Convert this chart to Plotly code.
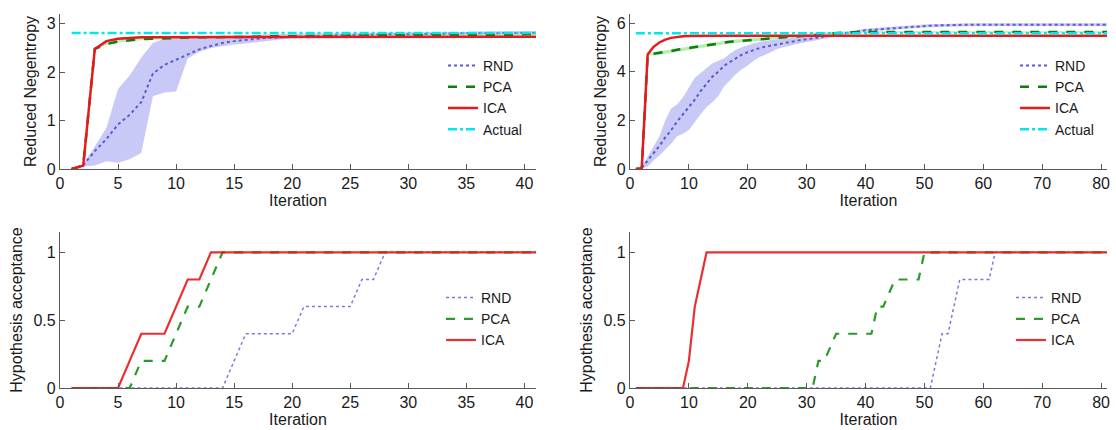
import plotly.graph_objects as go

# ---------------- data ----------------
iter_a = list(range(1, 42))   # left column: iterations 1..41
iter_b = list(range(1, 82))   # right column: iterations 1..81

# Top-left: reduced negentropy
neg_a_rnd = [0.00, 0.08, 0.37, 0.62, 0.92, 1.12, 1.38, 1.97, 2.15, 2.26,
             2.37, 2.47, 2.54, 2.60, 2.64, 2.67, 2.69, 2.71, 2.72, 2.73,
             2.74, 2.75, 2.75, 2.76, 2.76, 2.77, 2.77, 2.78, 2.78, 2.78,
             2.79, 2.79, 2.79, 2.80, 2.80, 2.80, 2.80, 2.81, 2.81, 2.81, 2.81]
neg_a_rnd_hi = [0.00, 0.10, 0.47, 0.85, 1.65, 1.93, 2.30, 2.60, 2.69, 2.71,
                2.72, 2.73, 2.74, 2.75, 2.76, 2.77, 2.77, 2.78, 2.78, 2.79,
                2.79, 2.80, 2.80, 2.80, 2.81, 2.81, 2.81, 2.82, 2.82, 2.82,
                2.82, 2.83, 2.83, 2.83, 2.83, 2.84, 2.84, 2.84, 2.84, 2.85, 2.85]
neg_a_rnd_lo = [0.00, 0.05, 0.07, 0.16, 0.13, 0.20, 0.33, 1.50, 1.58, 1.60,
                2.28, 2.42, 2.50, 2.54, 2.57, 2.59, 2.62, 2.65, 2.68, 2.70,
                2.71, 2.72, 2.72, 2.73, 2.73, 2.74, 2.74, 2.75, 2.75, 2.75,
                2.76, 2.76, 2.76, 2.77, 2.77, 2.77, 2.77, 2.78, 2.78, 2.78, 2.78]
neg_a_pca = [0.00, 0.07, 2.48, 2.58, 2.63, 2.66, 2.68, 2.69, 2.70, 2.71,
             2.71, 2.72, 2.72, 2.72, 2.73, 2.73, 2.73, 2.74, 2.74, 2.74,
             2.74, 2.75, 2.75, 2.75, 2.75, 2.75, 2.76, 2.76, 2.76, 2.76,
             2.76, 2.76, 2.77, 2.77, 2.77, 2.77, 2.77, 2.77, 2.77, 2.78, 2.78]
neg_a_pca_hi = [0.00, 0.07, 2.50, 2.66, 2.71, 2.73, 2.74, 2.74, 2.74, 2.74,
                2.74, 2.74, 2.74, 2.75, 2.75, 2.75, 2.75, 2.76, 2.76, 2.76,
                2.76, 2.77, 2.77, 2.77, 2.77, 2.77, 2.78, 2.78, 2.78, 2.78,
                2.78, 2.78, 2.79, 2.79, 2.79, 2.79, 2.79, 2.79, 2.79, 2.80, 2.80]
neg_a_pca_lo = [0.00, 0.07, 2.46, 2.56, 2.61, 2.64, 2.66, 2.67, 2.68, 2.69,
                2.69, 2.70, 2.70, 2.70, 2.71, 2.71, 2.71, 2.72, 2.72, 2.72,
                2.72, 2.73, 2.73, 2.73, 2.73, 2.73, 2.74, 2.74, 2.74, 2.74,
                2.74, 2.74, 2.75, 2.75, 2.75, 2.75, 2.75, 2.75, 2.75, 2.76, 2.76]
neg_a_ica = [0.00, 0.07, 2.48, 2.64, 2.69, 2.71, 2.72, 2.72, 2.72] + [2.73] * 32
neg_a_actual = 2.81

# Top-right: reduced negentropy
neg_b_rnd = [0.00, 0.05, 0.35, 0.65, 0.95, 1.30, 1.60, 1.95, 2.25, 2.55,
             2.85, 3.20, 3.50, 3.80, 4.00, 4.25, 4.40, 4.55, 4.70, 4.80,
             4.90, 4.97, 5.03, 5.08, 5.13, 5.18, 5.22, 5.26, 5.30, 5.33,
             5.37, 5.41, 5.44, 5.48, 5.52, 5.56, 5.60, 5.63, 5.67, 5.70,
             5.72, 5.74, 5.76, 5.78, 5.80, 5.82, 5.84, 5.86, 5.87, 5.88,
             5.89, 5.90, 5.91, 5.92] + [5.93] * 27
neg_b_rnd_hi = [0.00, 0.10, 0.50, 0.90, 1.35, 2.00, 2.50, 2.65, 2.95, 3.35,
                3.75, 3.95, 4.15, 4.35, 4.45, 4.55, 4.75, 4.90, 5.00, 5.10,
                5.17, 5.22, 5.27, 5.30, 5.33, 5.36, 5.39, 5.41, 5.43, 5.45,
                5.47, 5.49, 5.52, 5.55, 5.58, 5.62, 5.66, 5.69, 5.73, 5.76,
                5.78, 5.80, 5.82, 5.84, 5.86, 5.88, 5.90, 5.92, 5.93, 5.94,
                5.95, 5.96, 5.97, 5.98] + [5.99] * 27
neg_b_rnd_lo = [0.00, 0.02, 0.10, 0.35, 0.55, 0.80, 1.05, 1.35, 1.45, 1.60,
                1.95, 2.25, 2.55, 2.75, 3.00, 3.40, 3.65, 3.90, 4.10, 4.25,
                4.45, 4.60, 4.70, 4.82, 4.93, 5.00, 5.07, 5.12, 5.17, 5.22,
                5.27, 5.32, 5.37, 5.42, 5.46, 5.50, 5.54, 5.57, 5.61, 5.64,
                5.66, 5.68, 5.70, 5.72, 5.74, 5.76, 5.78, 5.80, 5.81, 5.82,
                5.83, 5.84, 5.85, 5.86] + [5.87] * 27
neg_b_pca = [0.00, 0.02, 4.70, 4.73, 4.77, 4.81, 4.85, 4.90, 4.94, 4.98,
             5.02, 5.06, 5.10, 5.14, 5.17, 5.20, 5.23, 5.25, 5.27, 5.30,
             5.32, 5.34, 5.36, 5.38, 5.40, 5.42, 5.44, 5.46, 5.48, 5.50,
             5.52, 5.54, 5.56, 5.58, 5.60, 5.61, 5.62, 5.62, 5.63] + [5.63] * 42
neg_b_pca_hi = [0.00, 0.02, 4.72, 4.80, 4.84, 4.88, 4.92, 4.97, 5.01, 5.05,
                5.09, 5.13, 5.17, 5.21, 5.24, 5.27, 5.30, 5.32, 5.34, 5.37,
                5.39, 5.41, 5.43, 5.45, 5.47, 5.49, 5.51, 5.53, 5.55, 5.57,
                5.59, 5.61, 5.62, 5.64, 5.65, 5.65, 5.66, 5.66, 5.66] + [5.66] * 42
neg_b_pca_lo = [0.00, 0.02, 4.68, 4.66, 4.70, 4.74, 4.78, 4.83, 4.87, 4.91,
                4.95, 4.99, 5.03, 5.07, 5.10, 5.13, 5.16, 5.18, 5.20, 5.23,
                5.25, 5.27, 5.29, 5.31, 5.33, 5.35, 5.37, 5.39, 5.41, 5.44,
                5.46, 5.49, 5.51, 5.54, 5.56, 5.57, 5.59, 5.59, 5.60] + [5.60] * 42
neg_b_ica = [0.00, 0.02, 4.71, 5.02, 5.20, 5.32, 5.39, 5.43, 5.46, 5.47] + [5.48] * 71
neg_b_actual = 5.58

# Bottom-left: hypothesis acceptance
hyp_a_rnd = [0.0] * 14 + [0.2, 0.4, 0.4, 0.4, 0.4, 0.4, 0.6, 0.6, 0.6, 0.6,
                          0.6, 0.8, 0.8] + [1.0] * 14
hyp_a_pca = [0.0, 0.0, 0.0, 0.0, 0.0, 0.0, 0.2, 0.2, 0.2, 0.4, 0.6, 0.6, 0.8] + [1.0] * 28
hyp_a_ica = [0.0, 0.0, 0.0, 0.0, 0.0, 0.2, 0.4, 0.4, 0.4, 0.6, 0.8, 0.8] + [1.0] * 29

# Bottom-right: hypothesis acceptance
hyp_b_rnd = [0.0] * 51 + [0.2, 0.4, 0.4, 0.6, 0.8, 0.8, 0.8, 0.8, 0.8, 0.8] + [1.0] * 20
hyp_b_pca = [0.0] * 31 + [0.2, 0.2, 0.3, 0.4, 0.4, 0.4, 0.4, 0.4, 0.4, 0.4,
                          0.6, 0.6, 0.7, 0.8, 0.8, 0.8, 0.8, 0.8] + [1.0] * 32
hyp_b_ica = [0.0] * 9 + [0.2, 0.6, 0.8] + [1.0] * 69

# ---------------- styling ----------------
FONT = "Liberation Sans, Arial, sans-serif"
C_RND = "#5a5ad2"
C_RND_BAND = "#c9c9f7"
C_PCA = "#0d7d0d"
C_PCA_L = "#2a9a2a"
C_PCA_BAND = "#b6efb6"
C_ICA = "#e8191c"
C_ACT = "#00e8ee"
AX = "#5a5a5a"

W, H = 1116, 430
ML, MR, MT, MB = 60, 9, 14, 42
PW, PH = W - ML - MR, H - MT - MB


def px_x(p):
    return (p - ML) / PW


def px_y(p):
    return 1 - (p - MT) / PH


fig = go.Figure()


def band(x, lo, hi, color, xa, ya):
    fig.add_trace(go.Scatter(x=x, y=lo, mode="lines", line=dict(width=0, color=color),
                             showlegend=False, hoverinfo="skip", xaxis=xa, yaxis=ya))
    fig.add_trace(go.Scatter(x=x, y=hi, mode="lines", line=dict(width=0, color=color),
                             fill="tonexty", fillcolor=color, showlegend=False,
                             hoverinfo="skip", xaxis=xa, yaxis=ya))


def line(x, y, name, color, dash, width, xa, ya, leg, opacity=1.0):
    fig.add_trace(go.Scatter(x=x, y=y, mode="lines", name=name,
                             line=dict(color=color, dash=dash, width=width),
                             opacity=opacity, xaxis=xa, yaxis=ya, legend=leg))


# top-left
band(iter_a, neg_a_rnd_lo, neg_a_rnd_hi, C_RND_BAND, "x", "y")
band(iter_a, neg_a_pca_lo, neg_a_pca_hi, C_PCA_BAND, "x", "y")
line(iter_a, neg_a_rnd, "RND", C_RND, "dot", 2, "x", "y", "legend")
line(iter_a, neg_a_pca, "PCA", C_PCA, "dash", 2.5, "x", "y", "legend")
line(iter_a, neg_a_ica, "ICA", C_ICA, "solid", 2.5, "x", "y", "legend")
line([iter_a[0], iter_a[-1]], [neg_a_actual, neg_a_actual], "Actual", C_ACT, "dashdot", 2.5,
     "x", "y", "legend")

# top-right
band(iter_b, neg_b_rnd_lo, neg_b_rnd_hi, C_RND_BAND, "x2", "y2")
band(iter_b, neg_b_pca_lo, neg_b_pca_hi, C_PCA_BAND, "x2", "y2")
line(iter_b, neg_b_rnd, "RND", C_RND, "dot", 2, "x2", "y2", "legend2")
line(iter_b, neg_b_pca, "PCA", C_PCA, "dash", 2.5, "x2", "y2", "legend2")
line(iter_b, neg_b_ica, "ICA", C_ICA, "solid", 2.5, "x2", "y2", "legend2")
line([iter_b[0], iter_b[-1]], [neg_b_actual, neg_b_actual], "Actual", C_ACT, "dashdot", 2.5,
     "x2", "y2", "legend2")

# bottom-left
line(iter_a, hyp_a_rnd, "RND", "#7a7ad4", "dot", 1.5, "x3", "y3", "legend3")
line(iter_a, hyp_a_pca, "PCA", C_PCA_L, "dash", 2.2, "x3", "y3", "legend3")
line(iter_a, hyp_a_ica, "ICA", C_ICA, "solid", 2.2, "x3", "y3", "legend3", 0.9)

# bottom-right
line(iter_b, hyp_b_rnd, "RND", "#7a7ad4", "dot", 1.5, "x4", "y4", "legend4")
line(iter_b, hyp_b_pca, "PCA", C_PCA_L, "dash", 2.2, "x4", "y4", "legend4")
line(iter_b, hyp_b_ica, "ICA", C_ICA, "solid", 2.2, "x4", "y4", "legend4", 0.9)

tickfont = dict(family=FONT, size=16, color="#1a1a1a")
titlefont = dict(family=FONT, size=16, color="#1a1a1a")


def xax(dom, rng, dtick, anchor):
    return dict(domain=dom, range=rng, dtick=dtick, tick0=0, anchor=anchor,
                ticks="inside", ticklen=5, tickcolor=AX, showline=True, linecolor=AX,
                linewidth=1.2, showgrid=False, zeroline=False, tickfont=tickfont,
                title=dict(text="Iteration", font=titlefont, standoff=2), automargin=False)


def yax(dom, rng, tickvals, ticktext, anchor, title):
    return dict(domain=dom, range=rng, tickvals=tickvals, ticktext=ticktext, anchor=anchor,
                ticks="inside", ticklen=5, tickcolor=AX, showline=True, linecolor=AX,
                linewidth=1.2, showgrid=False, zeroline=False, tickfont=tickfont,
                title=dict(text=title, font=titlefont, standoff=6), automargin=False)


dom_l = [px_x(60), px_x(536)]
dom_r = [px_x(630), px_x(1107)]
dom_t = [px_y(169), px_y(14)]
dom_b = [px_y(388), px_y(232)]

leg_common = dict(bgcolor="rgba(0,0,0,0)", borderwidth=0, xanchor="left", yanchor="top",
                  font=dict(family=FONT, size=14, color="#1a1a1a"), tracegroupgap=0,
                  itemwidth=30, traceorder="normal")

fig.update_layout(
    width=W, height=H,
    margin=dict(l=ML, r=MR, t=MT, b=MB, autoexpand=False),
    paper_bgcolor="white", plot_bgcolor="white",
    font=dict(family=FONT),
    xaxis=xax(dom_l, [0, 41], 5, "y"),
    yaxis=yax(dom_t, [0, 3.2], [0, 1, 2, 3], ["0", "1", "2", "3"], "x", "Reduced Negentropy"),
    xaxis2=xax(dom_r, [0, 81], 10, "y2"),
    yaxis2=yax(dom_t, [0, 6.37], [0, 2, 4, 6], ["0", "2", "4", "6"], "x2", "Reduced Negentropy"),
    xaxis3=xax(dom_l, [0, 41], 5, "y3"),
    yaxis3=yax(dom_b, [0, 1.15], [0, 0.5, 1], ["0", "0.5", "1"], "x3", "Hypothesis acceptance"),
    xaxis4=xax(dom_r, [0, 81], 10, "y4"),
    yaxis4=yax(dom_b, [0, 1.15], [0, 0.5, 1], ["0", "0.5", "1"], "x4", "Hypothesis acceptance"),
    legend=dict(x=px_x(443), y=px_y(50), **leg_common),
    legend2=dict(x=px_x(1015), y=px_y(50), **leg_common),
    legend3=dict(x=px_x(441), y=px_y(282), **leg_common),
    legend4=dict(x=px_x(1011), y=px_y(282), **leg_common),
    showlegend=True,
)

fig.write_html("out.html", config={"displayModeBar": False},
               post_script="document.body.style.margin='0';document.body.style.padding='0';")
